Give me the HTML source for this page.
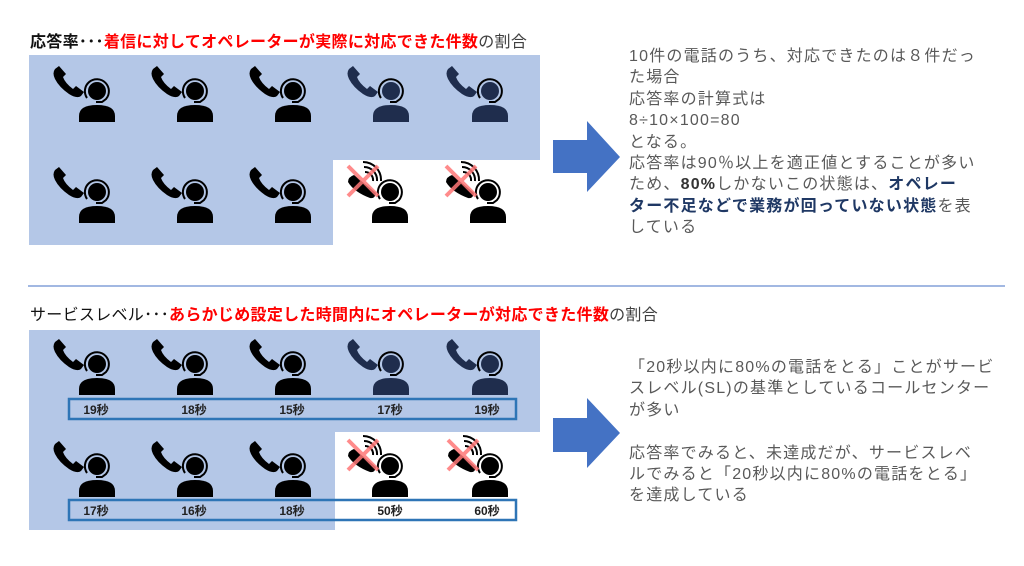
<!DOCTYPE html>
<html><head><meta charset="utf-8"><style>
body{margin:0;width:1024px;height:566px;background:#fff;overflow:hidden;position:relative;font-family:"Liberation Sans","Noto Sans CJK JP",sans-serif}
.t{position:absolute;font-size:16px;white-space:nowrap;color:#404040;letter-spacing:0.3px}
.t b{color:#111}.r{color:#f00;font-weight:bold}
.p{position:absolute;left:629px;font-size:16px;letter-spacing:1.2px;line-height:21.4px;color:#595959;white-space:nowrap}
.p .k{color:#1f3864;font-weight:bold}.p .d{color:#333;font-weight:bold}
</style></head><body>
<div class="t" style="left:30px;top:28px"><b>応答率･･･</b><span class="r">着信に対してオペレーターが実際に対応できた件数</span>の割合</div>
<div class="t" style="left:30px;top:301px;color:#111"><span>サービスレベル･･･</span><span class="r">あらかじめ設定した時間内にオペレーターが対応できた件数</span><span style="color:#404040">の割合</span></div>
<svg width="1024" height="566" style="position:absolute;left:0;top:0">
<defs>
<g id="pp">
<circle cx="0" cy="0" r="9"/>
<path d="M-10,7 A12,12 0 1 1 9,8 L5,11 L-1,11" fill="none" stroke="#000" stroke-width="2"/>
<path d="M-18,31 L-18,25 Q-18,14 0,14 Q18,14 18,25 L18,31 Z"/>
</g>
<g id="ph"><path d="M-42,-22 l4,-3 l7,8 l-3,3 q2,6 10,12 l3,-3 l8,6 l-3,4 q-4,3 -12,-2 q-10,-7 -14,-15 q-3,-6 0,-10z"/></g>
<g id="pw"><path d="M-42,-10 q0,-5 6,-7 l22,18 q-1,6 -6,5 q-16,-6 -22,-16z"/>
<path d="M-25,-20 a8,8 0 0 1 8,9 M-26,-25 a13,13 0 0 1 13,14 M-27,-30 a18,18 0 0 1 18,19" fill="none" stroke="#000" stroke-width="2"/>
<path d="M-42,-26 L-12,4 M-12,-26 L-42,4" stroke="#f77" stroke-opacity=".85" stroke-width="4"/></g>
</defs>
<path d="M29,55 H540 V160 H333 V245 H29 Z" fill="#b4c7e7"/>
<path d="M29,330 H540 V432 H335 V530 H29 Z" fill="#b4c7e7"/>
<line x1="28" y1="286" x2="1005" y2="286" stroke="#4472c4" stroke-width="1"/>
<g>
<g transform="translate(97,91)"><use href="#pp"/><use href="#ph"/></g>
<g transform="translate(195,91)"><use href="#pp"/><use href="#ph"/></g>
<g transform="translate(293,91)"><use href="#pp"/><use href="#ph"/></g>
<g transform="translate(391,91)" fill="#1f2d4d"><use href="#pp"/><use href="#ph"/></g>
<g transform="translate(490,91)" fill="#1f2d4d"><use href="#pp"/><use href="#ph"/></g>
<g transform="translate(97,192)"><use href="#pp"/><use href="#ph"/></g>
<g transform="translate(195,192)"><use href="#pp"/><use href="#ph"/></g>
<g transform="translate(293,192)"><use href="#pp"/><use href="#ph"/></g>
<g transform="translate(390,192)"><use href="#pp"/><use href="#pw"/></g>
<g transform="translate(488,192)"><use href="#pp"/><use href="#pw"/></g>

<g transform="translate(97,364)"><use href="#pp"/><use href="#ph"/></g>
<g transform="translate(195,364)"><use href="#pp"/><use href="#ph"/></g>
<g transform="translate(293,364)"><use href="#pp"/><use href="#ph"/></g>
<g transform="translate(391,364)" fill="#1f2d4d"><use href="#pp"/><use href="#ph"/></g>
<g transform="translate(490,364)" fill="#1f2d4d"><use href="#pp"/><use href="#ph"/></g>
<g transform="translate(97,466)"><use href="#pp"/><use href="#ph"/></g>
<g transform="translate(195,466)"><use href="#pp"/><use href="#ph"/></g>
<g transform="translate(293,466)"><use href="#pp"/><use href="#ph"/></g>
<g transform="translate(390,466)"><use href="#pp"/><use href="#pw"/></g>
<g transform="translate(490,466)"><use href="#pp"/><use href="#pw"/></g>
</g>
<rect x="69" y="399" width="447" height="20" fill="none" stroke="#2e75b6" stroke-width="2.5"/>
<rect x="69" y="500" width="447" height="20" fill="none" stroke="#2e75b6" stroke-width="2.5"/>
<g font-size="12" font-weight="bold" fill="#222" font-family="Liberation Sans,Noto Sans CJK JP,sans-serif" text-anchor="middle">
<text x="96" y="414">19秒</text><text x="194" y="414">18秒</text><text x="292" y="414">15秒</text><text x="390" y="414">17秒</text><text x="487" y="414">19秒</text>
<text x="96" y="515">17秒</text><text x="194" y="515">16秒</text><text x="292" y="515">18秒</text><text x="390" y="515">50秒</text><text x="487" y="515">60秒</text>
</g>
<path d="M553,140 H587 V121 L620,157 L587,192 V173 H553 Z" fill="#4472c4"/>
<path d="M553,418 H587 V398 L620,433 L587,468 V452 H553 Z" fill="#4472c4"/>
</svg>
<div class="p" style="top:46px">10件の電話のうち、対応できたのは８件だっ<br>た場合<br>応答率の計算式は<br>8÷10×100=80<br>となる。<br>応答率は90％以上を適正値とすることが多い<br>ため、<span class="d">80%</span>しかないこの状態は、<span class="k">オペレー<br>ター不足などで業務が回っていない状態</span>を表<br>している</div>
<div class="p" style="top:357px">「20秒以内に80%の電話をとる」ことがサービ<br>スレベル(SL)の基準としているコールセンター<br>が多い<br><br>応答率でみると、未達成だが、サービスレベ<br>ルでみると「20秒以内に80%の電話をとる」<br>を達成している</div>
</body></html>
